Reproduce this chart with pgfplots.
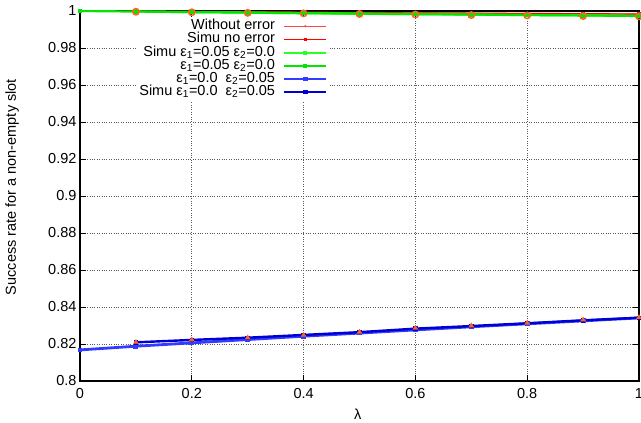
\documentclass[border=0pt]{standalone}
\usepackage{fontspec}
\setmainfont{Liberation Sans}
\usepackage{pgfplots}
\pgfplotsset{compat=1.18}
\definecolor{gred}{RGB}{255,0,0}
\definecolor{lred}{RGB}{255,70,70}
\definecolor{ggreen}{RGB}{0,230,0}
\definecolor{lgreen}{RGB}{40,255,40}
\definecolor{lblue}{RGB}{50,60,255}
\definecolor{dblue}{RGB}{0,0,210}
\definecolor{gorange}{RGB}{255,100,30}
\begin{document}
\begin{tikzpicture}
\begin{axis}[
  scale only axis,
  width=559pt, height=370pt,
  xmin=0, xmax=1, ymin=0.8, ymax=1,
  xtick={0,0.2,0.4,0.6,0.8,1},
  xticklabels={0,0.2,0.4,0.6,0.8,1},
  ytick={0.8,0.82,0.84,0.86,0.88,0.9,0.92,0.94,0.96,0.98,1},
  yticklabels={0.8,0.82,0.84,0.86,0.88,0.9,0.92,0.94,0.96,0.98,1},
  tick align=inside,
  major tick length=6pt,
  xtick pos=both, ytick pos=both,
  tick style={black, line width=0.8pt},
  axis line style={black, line width=1.1pt},
  grid=major,
  major grid style={dotted, black!65, line width=0.7pt},
  font=\fontsize{14.5}{16}\selectfont,
  /pgf/number format/assume math mode=true,
  xticklabel style={yshift=-3.5pt},
  xlabel={λ},
  ylabel={Success rate for a non-empty slot},
  every axis x label/.style={at={(axis description cs:0.497,-0.089)}, anchor=center},
  every axis y label/.style={at={(axis description cs:-0.1216,0.524)}, anchor=center, rotate=90},
  legend cell align=right,
  legend plot pos=right,
  legend style={
    at={(axis description cs:0.4472,0.9825)}, anchor=north east,
    fill=white, draw=none, inner sep=2pt,
    row sep=0pt, column sep=8pt,
    nodes={inner sep=0pt, text height=10pt, text depth=3.2pt},
    font=\fontsize{14.5}{13}\selectfont,
  },
  legend image code/.code={%
    \draw[mark repeat=2, mark phase=2, #1] plot coordinates {(0pt,0pt) (21pt,0pt) (42pt,0pt)};},
]
% Without error (analytic)
\addplot[lred, line width=1pt, mark=*, mark size=0.6pt] coordinates {
(0,1.0000) (0.1,0.9998) (0.2,0.9996) (0.3,0.9995) (0.4,0.9993) (0.5,0.9991)
(0.6,0.9990) (0.7,0.9988) (0.8,0.9987) (0.9,0.9985) (1,0.9983)};
\addlegendentry{Without error}
% Simu no error
\addplot[gred, line width=1.4pt, mark=square*, mark size=1pt] coordinates {
(0.1,0.9998) (0.2,0.9996) (0.3,0.9994) (0.4,0.9993) (0.5,0.9991)
(0.6,0.9989) (0.7,0.9988) (0.8,0.9986) (0.9,0.9985) (1,0.9983)};
\addlegendentry{Simu no error}
% Simu eps1
\addplot[lgreen, line width=2.2pt, mark=square*, mark size=1pt] coordinates {
(0.1,0.9997) (0.2,0.9994) (0.3,0.9991) (0.4,0.9988) (0.5,0.9985)
(0.6,0.9983) (0.7,0.9980) (0.8,0.9978) (0.9,0.9976) (1,0.9974)};
\addlegendentry{Simu ε\textsubscript{1}=0.05 ε\textsubscript{2}=0.0}
% eps1 analytic
\addplot[ggreen, line width=2.2pt, mark=square*, mark size=1pt] coordinates {
(0,1.0000) (0.1,0.9997) (0.2,0.9994) (0.3,0.9991) (0.4,0.9988) (0.5,0.9986)
(0.6,0.9983) (0.7,0.9981) (0.8,0.9978) (0.9,0.9976) (1,0.9973)};
\addlegendentry{ε\textsubscript{1}=0.05 ε\textsubscript{2}=0.0}
% eps2 analytic
\addplot[lblue, line width=2.8pt, mark=square*, mark size=1pt] coordinates {
(0,0.8168) (0.1,0.8188) (0.2,0.8206) (0.3,0.8224) (0.4,0.8242) (0.5,0.8259)
(0.6,0.8276) (0.7,0.8293) (0.8,0.8309) (0.9,0.8325) (1,0.8341)};
\addlegendentry{ε\textsubscript{1}=0.0\ \ ε\textsubscript{2}=0.05}
% Simu eps2
\addplot[dblue, line width=2.4pt, mark=square*, mark size=1pt] coordinates {
(0.1,0.8209) (0.2,0.8222) (0.3,0.8234) (0.4,0.8249) (0.5,0.8264)
(0.6,0.8283) (0.7,0.8297) (0.8,0.8312) (0.9,0.8328) (1,0.8342)};
\addlegendentry{Simu ε\textsubscript{1}=0.0\ \ ε\textsubscript{2}=0.05}
% orange markers (no legend)
\addplot[only marks, gorange, mark=o, mark size=3.2pt, line width=1.5pt, forget plot] coordinates {
(0.1,0.9996) (0.2,0.9993) (0.3,0.9990) (0.4,0.9987) (0.5,0.9984)
(0.6,0.9981) (0.7,0.9978) (0.8,0.9976) (0.9,0.9973) (1,0.9971)};
\addplot[only marks, gorange, mark=triangle*, mark size=2.8pt, forget plot] coordinates {
(0.1,0.8209) (0.2,0.8223) (0.3,0.8234) (0.4,0.8248) (0.5,0.8265)
(0.6,0.8286) (0.7,0.8299) (0.8,0.8314) (0.9,0.8331) (1,0.8344)};
\end{axis}
\pgfresetboundingbox
\path[use as bounding box] (-80pt,-42pt) rectangle (561pt,381pt);
\end{tikzpicture}
\end{document}
